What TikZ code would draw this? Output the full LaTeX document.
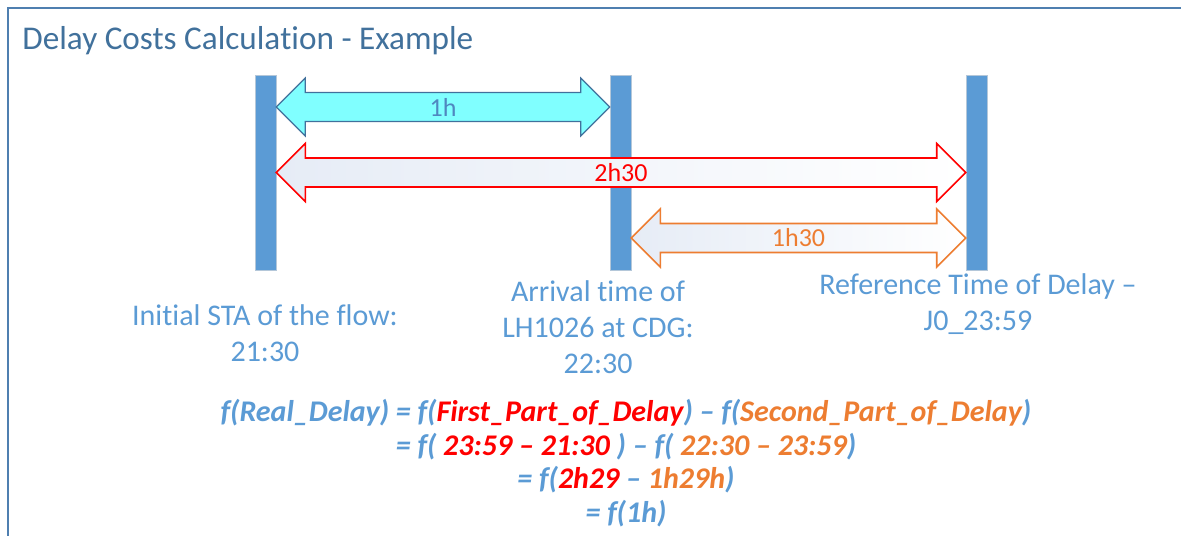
\documentclass[tikz,border=0pt]{standalone}
\usepackage{fontspec}
\setmainfont{Carlito}[Ligatures={NoCommon,NoContextual,TeX}]
\usetikzlibrary{calc}
\definecolor{txtblue}{HTML}{5B9BD5}
\definecolor{titleblue}{HTML}{41719C}
\definecolor{framecol}{HTML}{4F7FB0}
\definecolor{barcol}{HTML}{5B9BD5}
\definecolor{cyanfill}{HTML}{80FFFF}
\definecolor{cyanline}{HTML}{41719C}
\definecolor{onehblue}{HTML}{4F87C0}
\definecolor{myred}{HTML}{FF0000}
\definecolor{myorange}{HTML}{ED7D31}
\definecolor{shadefill}{HTML}{E6ECF6}
\tikzset{
  barnode/.style={fill=barcol, draw=barcol!60!gray!50, line width=0.3pt, minimum width=10.5pt, minimum height=97.5pt, inner sep=0pt},
  lbl/.style={text=txtblue, font=\fontsize{15}{18}\selectfont, align=center, inner sep=0pt},
  formula/.style={font=\fontsize{15}{16.75}\selectfont\bfseries\itshape, text=txtblue, align=center, inner sep=0pt},
  cyanarrow/.style={fill=cyanfill, draw=cyanline, line width=0.6pt, line join=miter},
  redarrow/.style={draw=myred, line width=0.8pt, left color=shadefill, right color=white, line join=miter},
  orangearrow/.style={draw=myorange, line width=0.8pt, left color=shadefill, right color=white, line join=miter},
}
% double block arrow between two tips (same y): #1 style, #2 left tip, #3 right tip
\newcommand{\blockarrow}[3]{%
  \path[#1] let \p1=(#2), \p2=(#3) in
    (\x1,\y1) -- (\x1+14.5pt,\y1+14.5pt) -- (\x1+14.5pt,\y1+7.25pt)
    -- (\x2-14.5pt,\y2+7.25pt) -- (\x2-14.5pt,\y2+14.5pt) -- (\x2,\y2)
    -- (\x2-14.5pt,\y2-14.5pt) -- (\x2-14.5pt,\y2-7.25pt)
    -- (\x1+14.5pt,\y1-7.25pt) -- (\x1+14.5pt,\y1-14.5pt) -- cycle;}
\begin{document}
\begin{tikzpicture}[x=0.5pt,y=-0.5pt]
\useasboundingbox (0,0) rectangle (1181,535);
\fill[white] (0,0) rectangle (1181,535);
% frame
\draw[framecol, line width=1.1pt] (8,536) -- (8,8) -- (1182,8);
% title
\node[anchor=west, text=titleblue, font=\fontsize{16.6}{19}\selectfont, inner sep=0pt] (title) at (22,41) {Delay Costs Calcula\kern0pt tion - Example};
% bars
\node[barnode] (b1) at (265.5,172.5) {};
\node[barnode] (b2) at (620.5,172.5) {};
\node[barnode] (b3) at (976.5,172.5) {};
% arrow tip coordinates
\coordinate (c1l) at (b1.east |- 0,107);
\coordinate (c1r) at (b2.west |- 0,107);
\coordinate (r1l) at (b1.east |- 0,172.5);
\coordinate (r1r) at (b3.west |- 0,172.5);
\coordinate (o1l) at (b2.east |- 0,238);
\coordinate (o1r) at (b3.west |- 0,238);
\blockarrow{cyanarrow}{c1l}{c1r}
\blockarrow{redarrow}{r1l}{r1r}
\blockarrow{orangearrow}{o1l}{o1r}
\node[text=onehblue, font=\fontsize{13}{15}\selectfont, inner sep=0pt] (l1h) at ($(c1l)!0.5!(c1r)$) {1h};
\node[text=myred, font=\fontsize{13}{15}\selectfont, inner sep=0pt] (l2h) at ($(r1l)!0.5!(r1r)$) {2h30};
\node[text=myorange, font=\fontsize{13}{15}\selectfont, inner sep=0pt] (l3h) at ($(o1l)!0.5!(o1r)$) {1h30};
% labels
\node[lbl] (lab1) at (265,333) {Initial STA of the flow:\\21:30};
\node[lbl] (lab2) at (598,327) {Arrival time of\\LH1026 at CDG:\\22:30};
\node[lbl] (lab3) at (978,304) {Reference Time of Delay –\\J0\_23:59};
% formula
\node[formula] (form) at (626,463) {%
f(Real\_Delay) = f(\textcolor{myred}{First\_Part\_of\_Delay}) – f(\textcolor{myorange}{Second\_Part\_of\_Delay})\\
= f( \textcolor{myred}{23:59 – 21:30} ) – f( \textcolor{myorange}{22:30 – 23:59})\\
= f(\textcolor{myred}{2h29} – \textcolor{myorange}{1h29h})\\
= f(1h)};
\end{tikzpicture}
\end{document}
